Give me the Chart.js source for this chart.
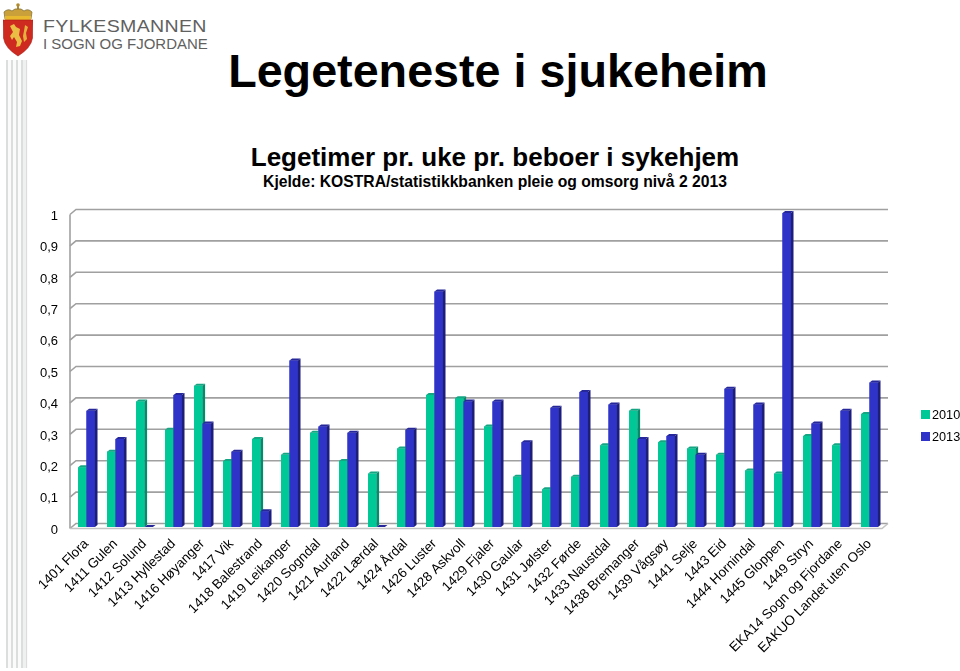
<!DOCTYPE html>
<html lang="no">
<head>
<meta charset="utf-8">
<title>Legeteneste i sjukeheim</title>
<script src="https://cdn.jsdelivr.net/npm/chart.js@4/dist/chart.umd.js"></script>
<style>
  html, body { margin: 0; padding: 0; background: #fff; }
  body { position: relative; width: 960px; height: 671px; overflow: hidden; font-family: "Liberation Sans", Arial, sans-serif; color: #000; }
  canvas { position: absolute; left: 0; top: 0; }
  .abs { position: absolute; white-space: nowrap; }
  .stripes { position: absolute; left: 6px; top: 60px; width: 22px; height: 608px;
    background: repeating-linear-gradient(90deg, #dcdede 0 1.5px, #fbfbfb 1.5px 5px); }
  .stripes i { position: absolute; left: 16.5px; top: 0; width: 3.5px; height: 100%; background: #eff1f1; }
  #title { left: 0; width: 996px; top: 44px; text-align: center; font-size: 46.7px; font-weight: bold; line-height: 54px; }
  #subtitle { left: 0; width: 990px; top: 142px; text-align: center; font-size: 26px; font-weight: bold; line-height: 30px; }
  #source { left: 0; width: 990px; top: 172px; text-align: center; font-size: 15.7px; font-weight: bold; line-height: 20px; }
  #org1 { left: 43px; top: 17px; font-size: 17px; color: #5f6161; line-height: 20px; letter-spacing: .3px; transform: scaleX(1.15); transform-origin: 0 0; }
  #org2 { left: 43px; top: 36px; font-size: 14px; color: #5f6161; line-height: 16px; transform: scaleX(1.07); transform-origin: 0 0; }
  #legend { position: absolute; left: 921px; top: 404px; margin: 0; padding: 0; list-style: none; font-size: 12.7px; }
  #legend li { height: 22px; line-height: 22px; white-space: nowrap; }
  #legend span { display: inline-block; width: 9px; height: 9px; margin-right: 2px; }
</style>
</head>
<body>
<div class="stripes"><i></i></div>
<svg class="abs" style="left:3px;top:2px" width="30" height="55" viewBox="0 0 30 55">
  <circle cx="15" cy="3" r="1.8" fill="#b08a2e"/>
  <path d="M14 4h2v4h-2z" fill="#b08a2e"/>
  <path d="M2 17 L1 10 Q5 6 9 9 Q12 6 15 7 Q18 6 21 9 Q25 6 29 10 L28 17 Z" fill="#c9a03a" stroke="#7b6a3a" stroke-width=".7"/>
  <path d="M2 14h26v4H2z" fill="#e8b92f"/>
  <path d="M0 18 H30 L29.5 36 Q28 46 15 54 Q2 46 0.5 36 Z" fill="#cf2a20" stroke="#a81c16" stroke-width=".6"/>
  <path d="M7 24 L11 22 L13 25 L17 27 L16 33 L19 39 L17 44 L13 45 L14 40 L11 35 L9 38 L7 34 L10 30 Z" fill="#eabd45"/>
  <path d="M22 23 L25 25 L23 31 L24 37 L21 40 L20 34 L21 29 Z" fill="#e4b23c"/>
</svg>
<div class="abs" id="org1">FYLKESMANNEN</div>
<div class="abs" id="org2">I SOGN OG FJORDANE</div>
<div class="abs" id="title">Legeteneste i sjukeheim</div>
<div class="abs" id="subtitle">Legetimer pr. uke pr. beboer i sykehjem</div>
<div class="abs" id="source">Kjelde: KOSTRA/statistikkbanken pleie og omsorg nivå 2 2013</div>
<canvas id="chart" width="960" height="671"></canvas>
<ul id="legend"></ul>
<script>
const categories = ['1401 Flora', '1411 Gulen', '1412 Solund', '1413 Hyllestad', '1416 Høyanger', '1417 Vik',
  '1418 Balestrand', '1419 Leikanger', '1420 Sogndal', '1421 Aurland', '1422 Lærdal', '1424 Årdal', '1426 Luster',
  '1428 Askvoll', '1429 Fjaler', '1430 Gaular', '1431 Jølster', '1432 Førde', '1433 Naustdal', '1438 Bremanger',
  '1439 Vågsøy', '1441 Selje', '1443 Eid', '1444 Hornindal', '1445 Gloppen', '1449 Stryn',
  'EKA14 Sogn og Fjordane', 'EAKUO Landet uten Oslo'];
const values2010 = [0.19, 0.24, 0.40, 0.31, 0.45, 0.21, 0.28, 0.23, 0.30, 0.21, 0.17, 0.25, 0.42, 0.41,
  0.32, 0.16, 0.12, 0.16, 0.26, 0.37, 0.27, 0.25, 0.23, 0.18, 0.17, 0.29, 0.26, 0.36];
const values2013 = [0.37, 0.28, 0, 0.42, 0.33, 0.24, 0.05, 0.53, 0.32, 0.30, 0, 0.31, 0.75, 0.40,
  0.40, 0.27, 0.38, 0.43, 0.39, 0.28, 0.29, 0.23, 0.44, 0.39, 1.00, 0.33, 0.37, 0.46];
const yTickLabels = ['0', '0,1', '0,2', '0,3', '0,4', '0,5', '0,6', '0,7', '0,8', '0,9', '1'];

// depth of the fake 3d look, in pixels
const barSide = 2.6, barTop = 2;
const wallX = 6, wallBack = 3.5, wallFront = 1.5;

const wallPlugin = {
  id: 'wall',
  beforeDatasetsDraw(chart) {
    const {ctx, chartArea, scales: {y}} = chart;
    const frontX = chartArea.left - 2;
    const backX = frontX + wallX;
    const rightX = chartArea.right + 4;
    ctx.save();
    ctx.strokeStyle = '#a0a0a0';
    ctx.lineWidth = 1.6;
    yTickLabels.forEach((label, i) => {
      const yPos = y.getPixelForValue(i / 10);
      ctx.beginPath();
      ctx.moveTo(frontX, yPos + wallFront);
      ctx.lineTo(backX, yPos - wallBack);
      ctx.lineTo(rightX, yPos - wallBack);
      ctx.stroke();
    });
    // left wall and floor
    const y0 = y.getPixelForValue(0);
    const y1 = y.getPixelForValue(1);
    ctx.beginPath();
    ctx.moveTo(frontX, y1 + wallFront);
    ctx.lineTo(frontX, y0 + wallFront);
    ctx.stroke();
    ctx.strokeStyle = '#c4c4c4';
    ctx.beginPath();
    ctx.moveTo(frontX, y0 + wallFront);
    ctx.lineTo(rightX - wallX, y0 + wallFront);
    ctx.lineTo(rightX, y0 - wallBack);
    ctx.stroke();
    ctx.restore();
  },
};

// chart.js paints the last dataset first, so repaint here left bar first
const depthPlugin = {
  id: 'depth',
  afterDatasetsDraw(chart) {
    const {ctx} = chart;
    ctx.save();
    chart.data.datasets.forEach((dataset, index) => {
      chart.getDatasetMeta(index).data.forEach((bar) => {
        const left = bar.x - bar.width / 2;
        const right = bar.x + bar.width / 2;
        bar.draw(ctx);
        // side face
        ctx.fillStyle = dataset.sideColor;
        ctx.beginPath();
        ctx.moveTo(right, bar.y);
        ctx.lineTo(right + barSide, bar.y - barTop);
        ctx.lineTo(right + barSide, bar.base - barTop);
        ctx.lineTo(right, bar.base);
        ctx.closePath();
        ctx.fill();
        // top face
        ctx.fillStyle = dataset.topColor;
        ctx.beginPath();
        ctx.moveTo(left, bar.y);
        ctx.lineTo(left + barSide, bar.y - barTop);
        ctx.lineTo(right + barSide, bar.y - barTop);
        ctx.lineTo(right, bar.y);
        ctx.closePath();
        ctx.fill();
      });
    });
    ctx.restore();
  },
};

const chart = new Chart(document.getElementById('chart').getContext('2d'), {
  type: 'bar',
  data: {
    labels: categories,
    datasets: [
      {label: '2010', data: values2010, backgroundColor: '#00c896', sideColor: '#058a6c', topColor: '#14a583'},
      {label: '2013', data: values2013, backgroundColor: '#2f33c8', sideColor: '#1c1e78', topColor: '#25279a'},
    ],
  },
  options: {
    responsive: false,
    animation: false,
    categoryPercentage: 0.58,
    barPercentage: 1,
    layout: {padding: {top: 213, right: 76, left: 0, bottom: 0}},
    plugins: {legend: {display: false}, title: {display: false}, tooltip: {enabled: false}},
    scales: {
      x: {
        grid: {display: false},
        border: {display: false},
        afterFit(scale) { scale.height = 144; },
        ticks: {
          autoSkip: false,
          maxRotation: 45,
          minRotation: 45,
          padding: 1,
          color: '#000',
          font: {family: '"Liberation Sans", Arial, sans-serif', size: 13.5},
        },
      },
      y: {
        min: 0,
        max: 1,
        afterFit(scale) { scale.width = 72; },
        grid: {display: false},
        border: {display: false},
        ticks: {
          stepSize: 0.1,
          padding: 6,
          labelOffset: 3.2,
          color: '#000',
          font: {family: '"Liberation Sans", Arial, sans-serif', size: 13},
          callback(value) { return yTickLabels[Math.round(value * 10)]; },
        },
      },
    },
  },
  plugins: [wallPlugin, depthPlugin],
});

const legendList = document.getElementById('legend');
legendList.innerHTML = chart.data.datasets.map((set) =>
  '<li><span style="background:' + set.backgroundColor + '"></span>' + set.label + '</li>').join('');
</script>
</body>
</html>
